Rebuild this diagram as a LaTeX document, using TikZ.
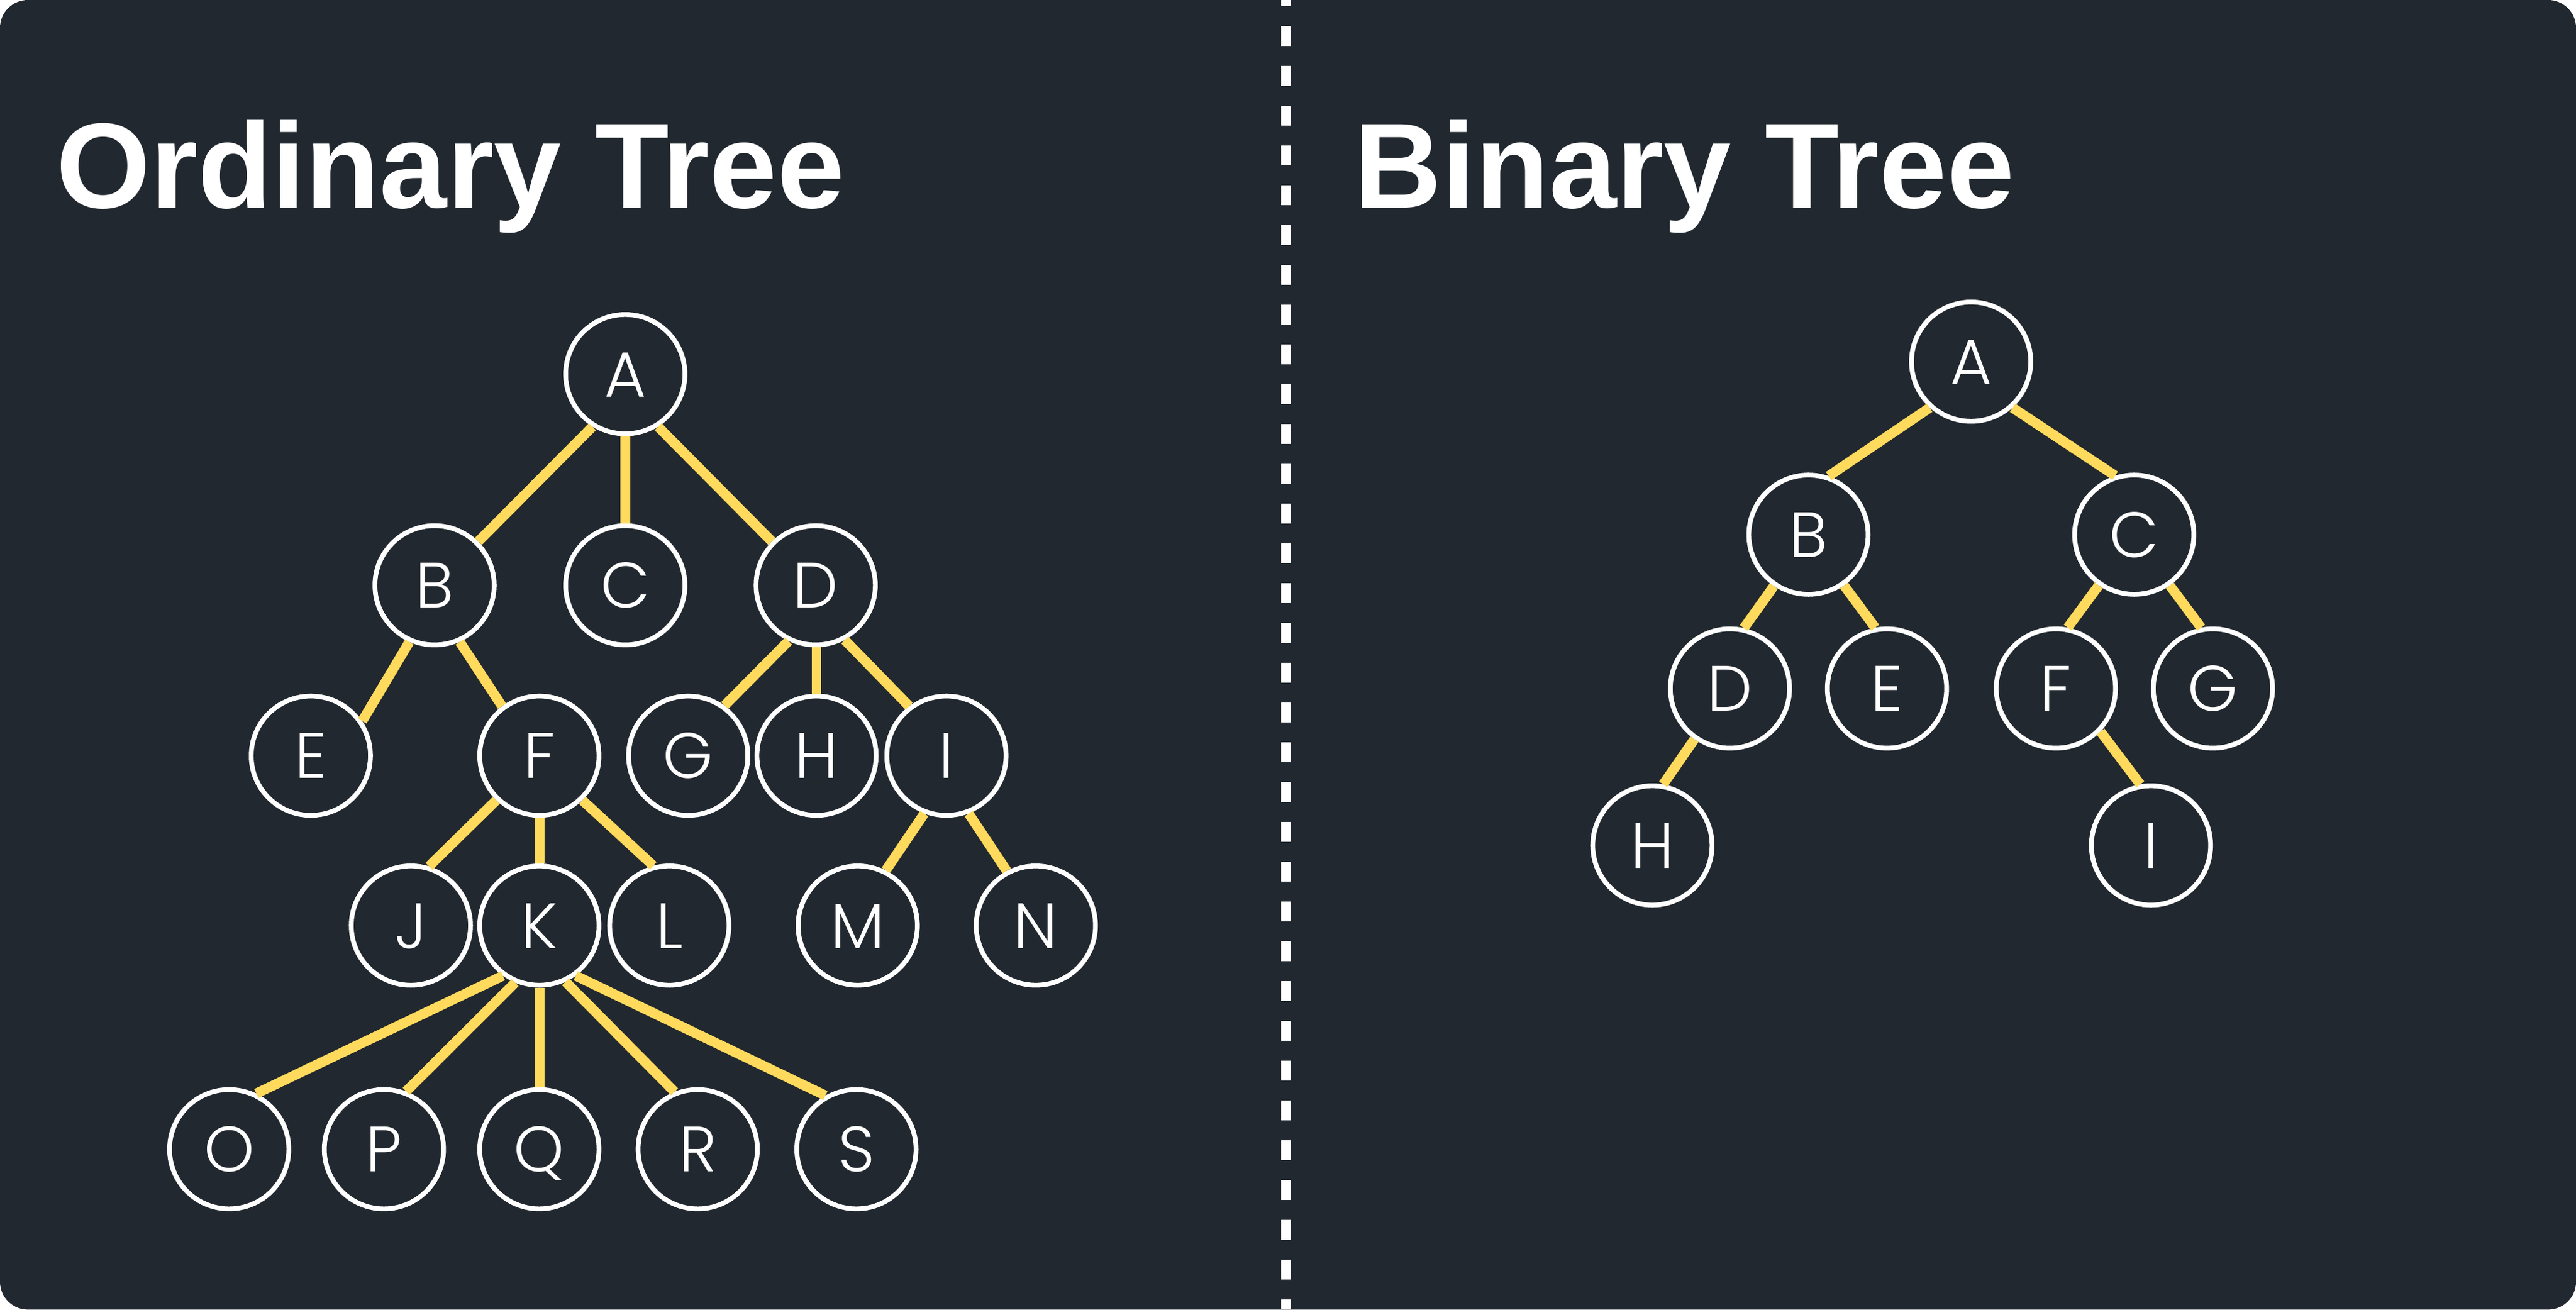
\documentclass[tikz,border=0pt]{standalone}
\usepackage{fontspec}
\setmainfont{Liberation Sans}
\newfontfamily\nodefont{Poppins Light}
\definecolor{bgc}{HTML}{21282F}
\definecolor{yel}{HTML}{FFDA5C}
\tikzset{
  tn/.style={circle, draw=white, fill=bgc, line width=2.9pt, minimum size=72.6pt, inner sep=0pt,
    text=white, font=\nodefont\fontsize{39}{39}\selectfont, text height=27.5pt, text depth=0pt},
  edge/.style={draw=yel, line width=6pt},
  title/.style={anchor=base west, inner sep=0pt, text=white, font=\fontsize{73.8}{74}\selectfont\bfseries},
  divider/.style={draw=white, line width=6.05pt, dash pattern=on 12.11pt off 12.11pt, dash phase=8.3pt}
}
\begin{document}
\begin{tikzpicture}[x=1pt,y=-1pt]
\useasboundingbox (0,0) rectangle (1568,797);
\fill[white] (0,0) rectangle (1568,797);
\fill[bgc, rounded corners=17pt] (0,0) rectangle (1568,797);
\coordinate (dtop) at (783,0);
\coordinate (dbot) at (783,797);
\draw[divider] (dtop) -- (dbot);
\node[title] (t1) at (34,126.4) {Ordinary Tree};
\node[title] (t2) at (824,126.4) {Binary Tree};
% ordinary tree
\node[tn] (oA) at (380.6,227.7) {A};
\node[tn] (oB) at (264.5,356.2) {B};
\node[tn] (oC) at (380.6,356.2) {C};
\node[tn] (oD) at (496.5,356.2) {D};
\node[tn] (oE) at (189.2,459.9) {E};
\node[tn] (oF) at (328.3,459.9) {F};
\node[tn] (oG) at (418.9,459.9) {G};
\node[tn] (oH) at (497,459.9) {H};
\node[tn] (oI) at (576.1,459.9) {I};
\node[tn] (oJ) at (250.1,563.3) {J};
\node[tn] (oK) at (328.3,563.3) {K};
\node[tn] (oL) at (407.4,563.3) {L};
\node[tn] (oM) at (522.1,563.3) {M};
\node[tn] (oN) at (630.5,563.3) {N};
\node[tn] (oO) at (139.5,699.4) {O};
\node[tn] (oP) at (233.7,699.4) {P};
\node[tn] (oQ) at (328.3,699.4) {Q};
\node[tn] (oR) at (424.7,699.4) {R};
\node[tn] (oS) at (521.3,699.4) {S};
\foreach \a/\p/\b/\q in {A/238/B/45, A/270/C/90, A/302/D/135,
    B/246/E/34, B/294/F/127,
    D/244/G/54, D/298/I/127,
    F/226/J/73, F/270/K/90, F/314/L/105,
    I/249/M/63, I/291/N/118,
    K/234/O/64, K/247/P/69, K/270/Q/90, K/295/R/112, K/306/S/120}
  \draw[edge] (o\a.\p) -- (o\b.\q);
\draw[edge] (oD.270 -| oH) -- (oH.90);
% binary tree
\node[tn] (bA) at (1199.8,220.1) {A};
\node[tn] (bB) at (1100.8,325.4) {B};
\node[tn] (bC) at (1299.1,325.4) {C};
\node[tn] (bD) at (1053,419) {D};
\node[tn] (bE) at (1148.6,419) {E};
\node[tn] (bF) at (1251.4,419) {F};
\node[tn] (bG) at (1347,419) {G};
\node[tn] (bH) at (1005.8,514.5) {H};
\node[tn] (bI) at (1309.3,514.5) {I};
\foreach \a/\p/\b/\q in {A/228/B/71, A/312/C/108,
    B/236/D/77, B/305/E/101,
    C/235/F/79, C/305/G/101,
    D/235/H/80, F/316/I/100}
  \draw[edge] (b\a.\p) -- (b\b.\q);
\end{tikzpicture}
\end{document}
